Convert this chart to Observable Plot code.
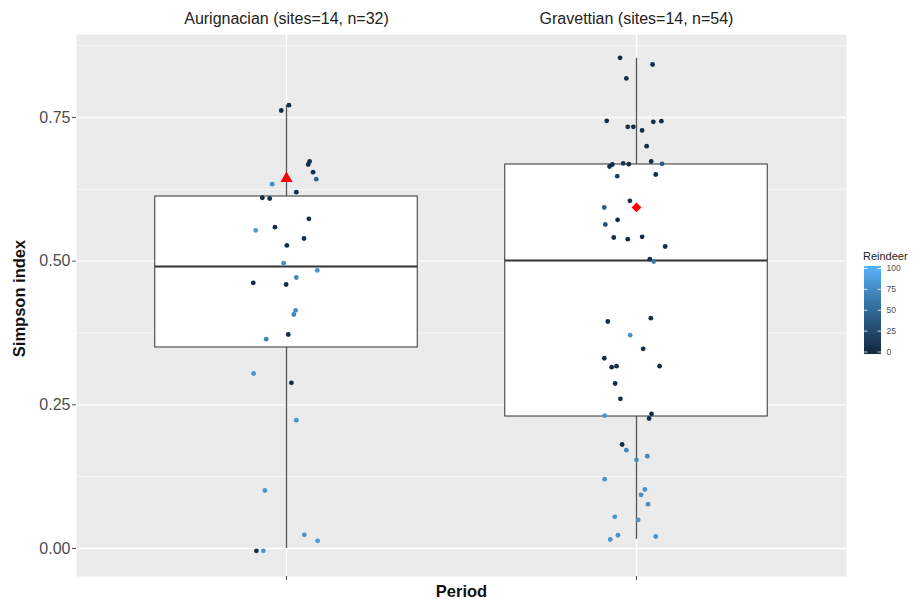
<!DOCTYPE html>
<html><head><meta charset="utf-8">
<script src="https://cdn.jsdelivr.net/npm/d3@7"></script>
<script src="https://cdn.jsdelivr.net/npm/@observablehq/plot@0.6"></script>
<style>
body{margin:0;background:#fff;}
#wrap{position:relative;width:913px;height:599px;overflow:hidden;font-family:"Liberation Sans",Arial,sans-serif;}
#legend{position:absolute;left:853px;top:250px;}
#legtitle{position:absolute;left:863px;top:250px;font-size:11px;line-height:13px;color:#222;}
</style></head><body><div id="wrap"></div>
<script>
// ---- data ----
const periods = ["Aurignacian", "Gravettian"];
const periodLabels = ["Aurignacian (sites=14, n=32)", "Gravettian (sites=14, n=54)"];
const boxLow = [0.0, 0.0157];
const boxQ1 = [0.3498, 0.2297];
const boxMedian = [0.4907, 0.5012];
const boxQ3 = [0.6125, 0.6682];
const boxHigh = [0.7714, 0.853];
const periodMean = [0.6439, 0.5934];

const aurSimpson = [0.7714,0.7622,0.6734,0.6682,0.6548,0.6426,0.6339,0.6200,0.6103,0.6090,0.5737,0.5534,0.5591,0.5394,0.5273,0.4965,0.4838,0.4716,0.4623,0.4594,0.4142,0.4072,0.3724,0.3642,0.3045,0.2883,0.2233,0.1009,0.0238,0.0134,-0.004,-0.004];
const aurJitter = [0.007,-0.015,0.066,0.062,0.076,0.085,-0.041,0.028,-0.069,-0.048,0.064,-0.088,-0.033,0.050,0.001,-0.008,0.088,0.028,-0.095,-0.001,0.026,0.021,0.005,-0.058,-0.094,0.014,0.028,-0.062,0.051,0.089,-0.086,-0.066];
const aurReindeer = [2,2,3,3,5,45,75,2,2,2,2,85,2,2,2,75,80,70,2,2,75,70,2,70,80,2,80,80,80,85,2,80];

const gravSimpson = [0.8539,0.8422,0.8179,0.7442,0.7338,0.7338,0.7425,0.7436,0.7274,0.7001,0.6647,0.6682,0.6700,0.6688,0.6734,0.6694,0.6479,0.6508,0.6050,0.5934,0.5720,0.5638,0.5412,0.5382,0.5424,0.5255,0.5034,0.4994,0.3950,0.4008,0.3712,0.3475,0.3311,0.3155,0.3172,0.3172,0.2871,0.2605,0.2314,0.2344,0.2262,0.1810,0.1711,0.1544,0.1606,0.1206,0.1027,0.0934,0.0771,0.0552,0.0499,0.0231,0.0157,0.0209];
const gravJitter = [-0.047,0.046,-0.029,-0.085,-0.025,-0.009,0.048,0.071,0.016,0.029,-0.077,-0.069,-0.038,-0.022,0.042,0.073,-0.055,0.055,-0.019,-0.092,-0.054,-0.089,-0.065,-0.025,0.016,0.082,0.038,0.049,-0.082,0.041,-0.018,0.019,-0.092,-0.071,-0.057,0.066,-0.061,-0.046,-0.091,0.043,0.036,-0.041,-0.029,0,0.031,-0.091,0.024,0.013,0.033,-0.062,0.005,-0.053,-0.075,0.055];
const gravReindeer = [2,2,2,2,2,2,2,2,2,2,2,2,10,2,2,40,20,2,5,40,2,30,2,2,2,2,2,60,2,2,80,2,2,2,2,2,2,2,80,2,2,2,75,75,70,80,80,75,75,80,80,80,80,80];

const yTicks = [0, 0.25, 0.5, 0.75];
const yMinorTicks = [0.125, 0.375, 0.625, 0.875];
const reindeerBreaks = [0, 25, 50, 75, 100];

// ---- tables ----
const points = [];
[[aurSimpson, aurJitter, aurReindeer], [gravSimpson, gravJitter, gravReindeer]].forEach(([s, j, r], k) =>
  s.forEach((v, n) => points.push({period: k + 1, simpson: v, jitter: j[n], reindeer: r[n]})));
const boxes = periods.map((p, k) => ({
  period: k + 1, name: p, label: periodLabels[k],
  low: boxLow[k], q1: boxQ1[k], median: boxMedian[k], q3: boxQ3[k], high: boxHigh[k], mean: periodMean[k]
}));

const colorScale = {type: "linear", domain: [0, 100], range: ["#132B43", "#56B1F7"], interpolate: "lab"};
const halfBox = 0.375;
const font = "'Liberation Sans', Arial, sans-serif";

const chart = Plot.plot({
  width: 913, height: 599,
  marginLeft: 76, marginRight: 67, marginTop: 34, marginBottom: 23,
  x: {domain: [0.4, 2.6], axis: null},
  y: {domain: [-0.0487, 0.8944], axis: null},
  color: colorScale,
  style: {fontFamily: font, fontSize: "16px", background: "white", overflow: "visible"},
  marks: [
    Plot.frame({fill: "#EBEBEB", stroke: "none"}),
    Plot.ruleY(yMinorTicks, {stroke: "white", strokeWidth: 0.6}),
    Plot.ruleY(yTicks, {stroke: "white", strokeWidth: 1.3}),
    Plot.ruleX(boxes, {x: "period", stroke: "white", strokeWidth: 1.3}),
    Plot.ruleX(boxes, {x: "period", y1: "q3", y2: "high", stroke: "#555", strokeWidth: 1.3}),
    Plot.ruleX(boxes, {x: "period", y1: "low", y2: "q1", stroke: "#555", strokeWidth: 1.3}),
    Plot.rect(boxes, {x1: d => d.period - halfBox, x2: d => d.period + halfBox, y1: "q1", y2: "q3", fill: "white", stroke: "#333", strokeWidth: 1}),
    Plot.ruleY(boxes, {y: "median", x1: d => d.period - halfBox, x2: d => d.period + halfBox, stroke: "#333", strokeWidth: 2}),
    Plot.dot(points, {x: d => d.period + d.jitter, y: "simpson", fill: "reindeer", r: 2.4}),
    Plot.dot(boxes.filter(d => d.period === 1), {x: "period", y: "mean", symbol: "triangle", fill: "red", r: 4.5}),
    Plot.dot(boxes.filter(d => d.period === 2), {x: "period", y: "mean", symbol: "diamond2", fill: "red", r: 4.4}),
    Plot.axisY({ticks: yTicks, tickFormat: d3.format(".2f"), tickSize: 4, tickPadding: 2, color: "#4d4d4d", label: null}),
    Plot.axisX({ticks: [1, 2], tickFormat: () => "", tickSize: 4, color: "#4d4d4d", label: null}),
    Plot.text(boxes, {x: "period", text: "label", frameAnchor: "top", lineAnchor: "middle", dy: -16, fill: "#222", fontSize: 16}),
    Plot.text(["Period"], {frameAnchor: "bottom", lineAnchor: "middle", dy: 15, fontWeight: "bold", fontSize: 16.5, fill: "#111"}),
    Plot.text(["Simpson index"], {frameAnchor: "left", textAnchor: "middle", lineAnchor: "middle", dx: -57, dy: -7, rotate: -90, fontWeight: "bold", fontSize: 16.5, fill: "#111"})
  ]
});

// ---- colorbar legend ----
const binW = 105.26 / 80;
const legBins = d3.range(80).map(i => -2.63 + i * binW);
const legend = Plot.plot({
  width: 50, height: 120, margin: 0,
  x: {domain: [0, 1], range: [11, 28], axis: null},
  y: {domain: [0, 100], range: [101.5, 18], axis: null},
  color: colorScale,
  style: {fontFamily: font, fontSize: "8.5px", background: "transparent", overflow: "visible"},
  marks: [
    Plot.rect(legBins, {x1: 0, x2: 1, y1: d => d, y2: d => Math.min(102.63, d + binW * 1.8), fill: d => Math.max(0, Math.min(100, d + binW / 2)), shapeRendering: "crispEdges"}),
    Plot.ruleY(reindeerBreaks, {x1: 0, x2: 0.2, stroke: "white", strokeWidth: 0.8}),
    Plot.ruleY(reindeerBreaks, {x1: 0.8, x2: 1, stroke: "white", strokeWidth: 0.8}),
    Plot.text(reindeerBreaks, {x: 1, y: d => d, dx: 5, textAnchor: "start", text: d => String(d), fill: "#4d4d4d"})
  ]
});

const wrap = document.getElementById("wrap");
wrap.appendChild(chart);
const legDiv = document.createElement("div");
legDiv.id = "legend";
legDiv.appendChild(legend);
wrap.appendChild(legDiv);
const t = document.createElement("div");
t.id = "legtitle";
t.textContent = "Reindeer";
wrap.appendChild(t);
</script></body></html>
